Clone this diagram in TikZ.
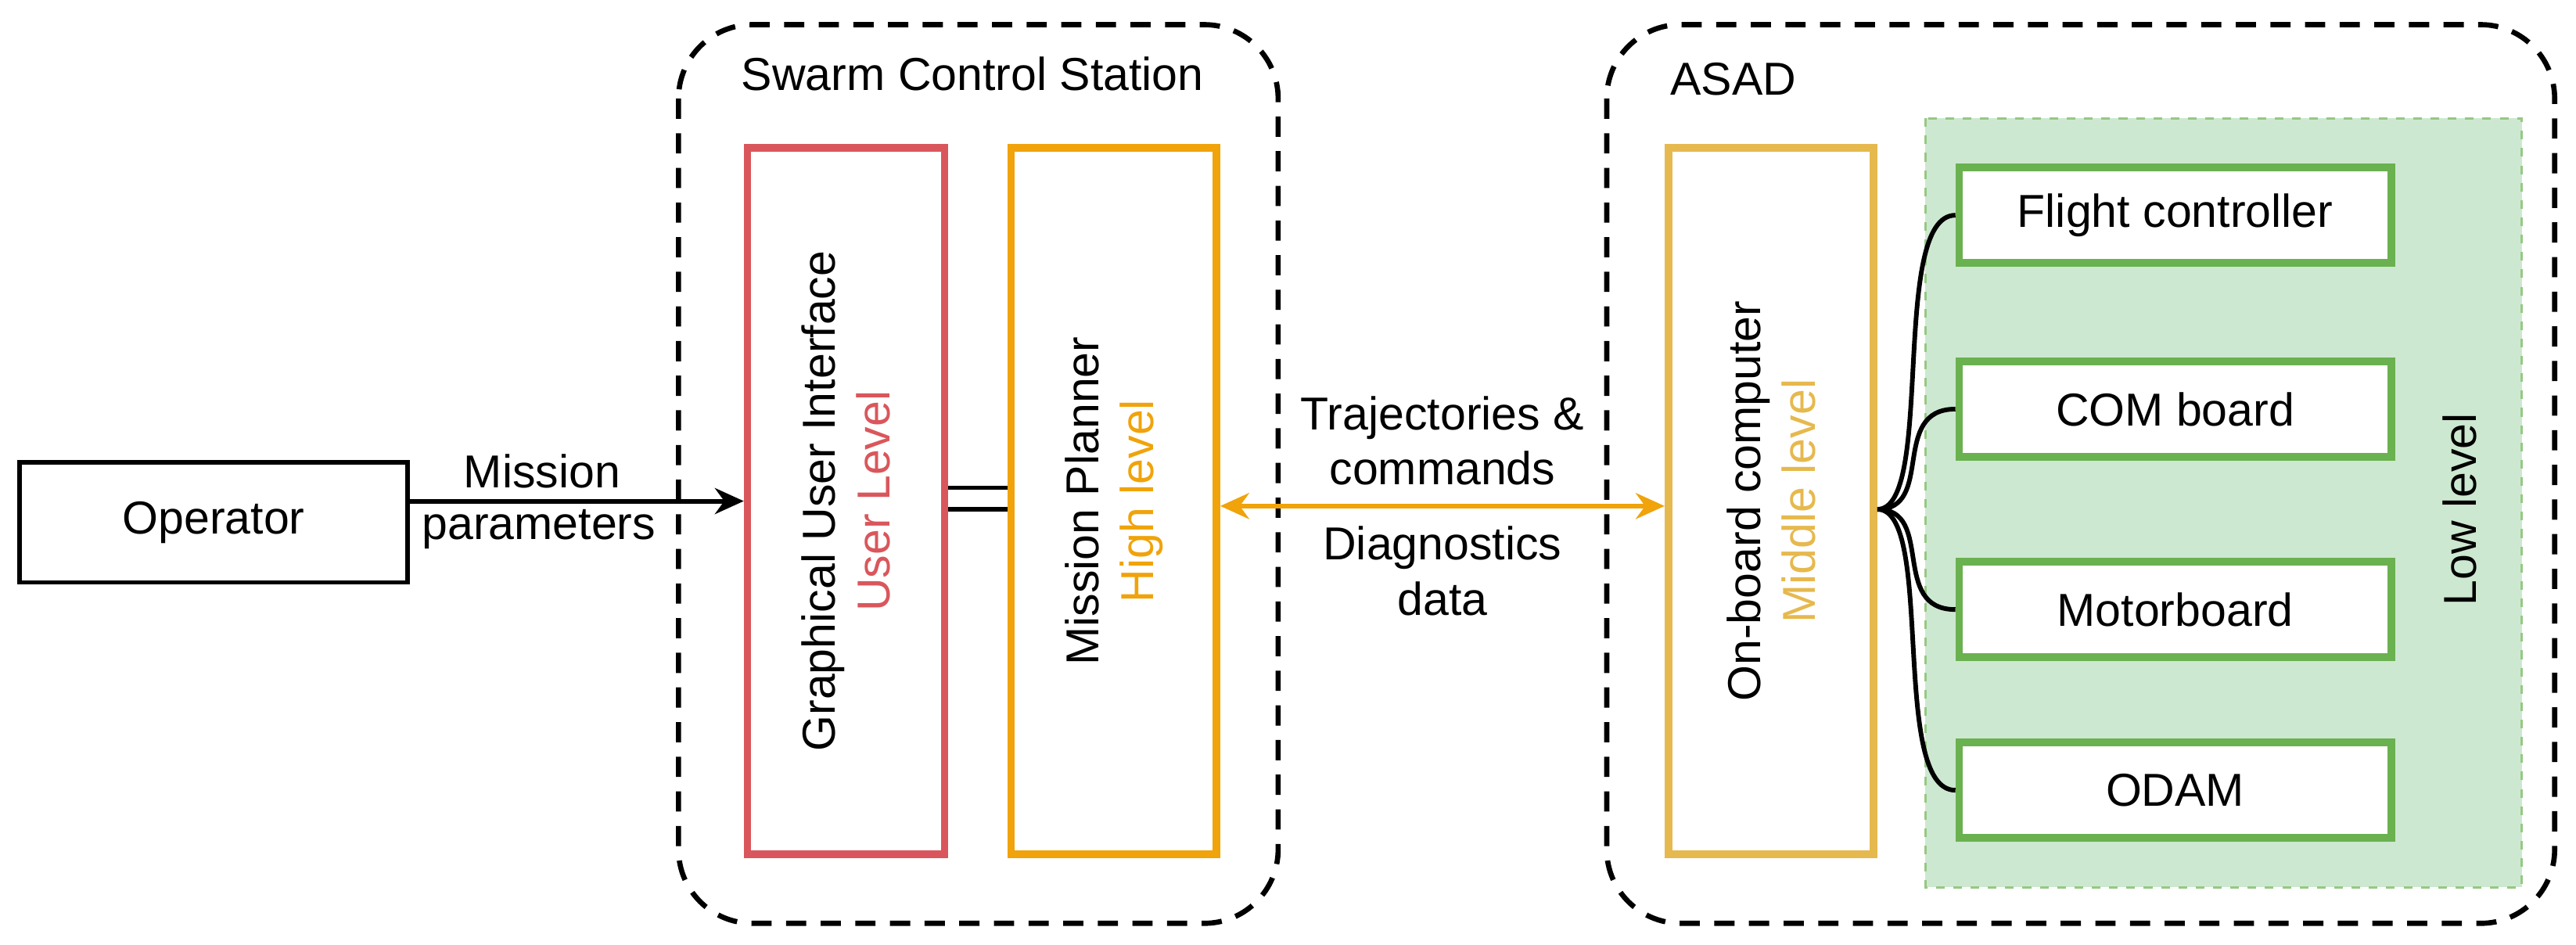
\documentclass[tikz,border=0pt]{standalone}
\usepackage{fontspec}
\setmainfont{Liberation Sans}
\usetikzlibrary{positioning, arrows.meta}
\definecolor{guired}{HTML}{D9575C}
\definecolor{mporange}{HTML}{F0A30A}
\definecolor{obyellow}{HTML}{E6B94E}
\definecolor{llgreen}{HTML}{6AB150}
\definecolor{llfill}{HTML}{CDE8D0}
\tikzset{every node/.style={font=\fontsize{16}{19}\selectfont, align=center},
  blk/.style={draw, line width=2.6pt, inner sep=0pt},
  grp/.style={draw, dashed, line width=1.8pt, rounded corners=0.9cm, dash pattern=on 7pt off 5pt},
  lowbox/.style={blk, draw=llgreen, fill=white, minimum width=5.26cm, minimum height=1.16cm}}

\begin{document}
\begin{tikzpicture}[x=0.02cm, y=-0.02cm]
\useasboundingbox (0,0) rectangle (1568,575);
\draw[grp] (413,15) rectangle (778,562);
\node (scs-text) at (592,45) {Swarm Control Station};
\draw[grp] (978,15) rectangle (1555,562);
\node (asad-text) at (1055,48) {ASAD};
\draw[draw=llgreen!70, fill=llfill, dashed, line width=0.8pt] (1172,72) rectangle (1535,540);
\node[rotate=90] (low-text) at (1497,310) {Low level};
\node[blk, minimum width=4.72cm, minimum height=1.46cm, line width=1.6pt] (operator) at (130,318) {Operator};
\node[blk, draw=guired, minimum width=2.4cm, minimum height=8.6cm] (gui) at (515,305) {};
\node[rotate=90] at (gui.center) {Graphical User Interface\\\textcolor{guired}{User Level}};
\node[blk, draw=mporange, minimum width=2.5cm, minimum height=8.6cm] (mp) at (678,305) {};
\node[rotate=90] at (mp.center) {Mission Planner\\\textcolor{mporange}{High level}};
\node[blk, draw=obyellow, minimum width=2.5cm, minimum height=8.6cm] (ob) at (1078,305) {};
\node[rotate=90] at (ob.center) {On-board computer\\\textcolor{obyellow}{Middle level}};
\node[lowbox] (fc) at (1324,131) {Flight controller};
\node[lowbox] (com) at (1324,249) {COM board};
\node[lowbox] (motor) at (1324,371) {Motorboard};
\node[lowbox] (odam) at (1324,481) {ODAM};
% connectors
\draw[-{Stealth[length=10pt,width=9pt]}, line width=1.6pt] (operator.east |- 0,305) -- (gui.west |- 0,305);
\node (mission-text) at (330,287) {Mission};
\node (param-text) at (328,322) {parameters};
\draw[line width=1.4pt] (gui.east |- 0,297) -- (mp.west |- 0,297);
\draw[line width=1.4pt] (gui.east |- 0,310) -- (mp.west |- 0,310);
\draw[{Stealth[length=10pt,width=9pt]}-{Stealth[length=10pt,width=9pt]}, draw=mporange, line width=1.6pt] (mp.east |- 0,308) -- (ob.west |- 0,308) node (traj-text) [midway, above=3pt] {Trajectories \&\\commands} node [midway, below=3pt] {Diagnostics\\data};
\foreach \dst in {fc, com, motor, odam}
  \draw[line width=1.6pt] (ob.east |- 0,310) .. controls (1178,310) and (1150,310 |- \dst.west) .. (\dst.west);
\end{tikzpicture}
\end{document}
